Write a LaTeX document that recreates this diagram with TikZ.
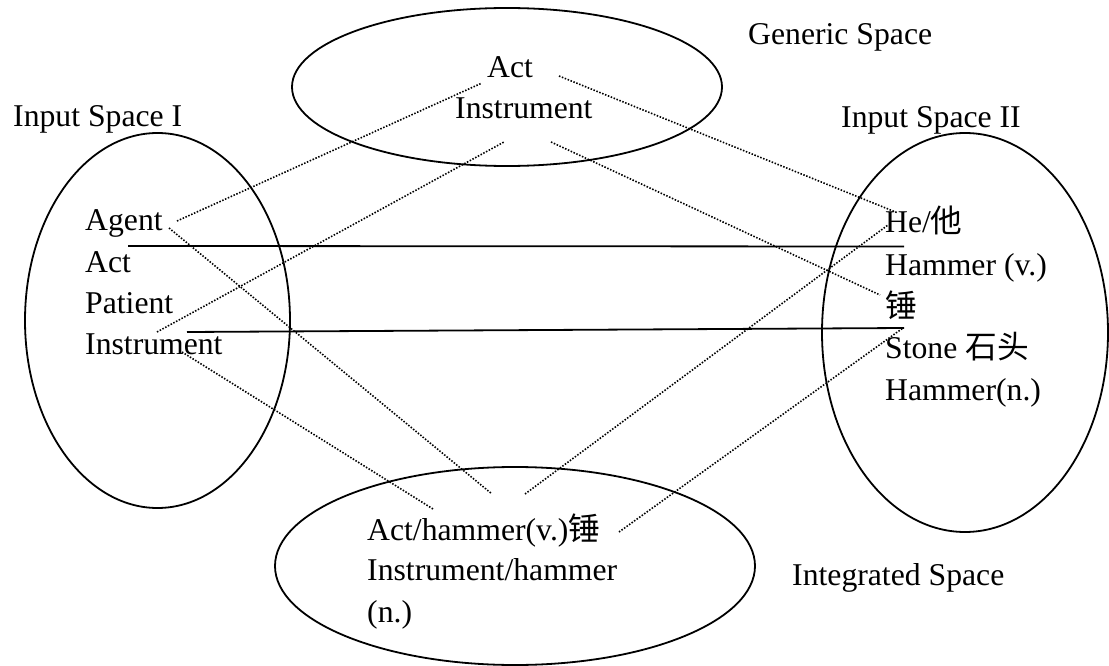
\documentclass[tikz,border=0pt]{standalone}
\usepackage{fontspec}
\setmainfont{Liberation Serif}
\newfontfamily\cjk{Noto Sans CJK SC}
\newcommand{\zh}[1]{{\cjk #1}}
\usetikzlibrary{shapes.geometric}
\begin{document}
\begin{tikzpicture}[x=1pt,y=-1pt,
  space/.style={draw, ellipse, line width=1.8pt, inner sep=0pt},
  txt/.style={anchor=base west, inner sep=0pt, font=\fontsize{31.7}{38}\selectfont},
  link/.style={line width=1.6pt, dash pattern=on 1.5pt off 1.6pt},
  match/.style={line width=1.8pt}]
\useasboundingbox (0,0) rectangle (1109,666);

% the four mental spaces
\node[space, minimum width=430pt, minimum height=158pt] (generic) at (507,87) {};
\node[space, minimum width=265pt, minimum height=375pt] (inputA) at (157.5,320.5) {};
\node[space, minimum width=286pt, minimum height=399pt] (inputB) at (965,332.5) {};
\node[space, minimum width=480pt, minimum height=198pt] (blend) at (515,566) {};

% space titles
\node[txt] (tGeneric) at (748,45) {Generic Space};
\node[txt] (tInputA) at (13,127) {Input Space I};
\node[txt] (tInputB) at (841,128) {Input Space II};
\node[txt] (tBlend) at (792,585) {Integrated Space};

% generic space contents
\node[txt] (gAct) at (487,78) {Act};
\node[txt] (gInst) at (455,119) {Instrument};

% input space I contents
\node[txt] (aAgent) at (85,230) {Agent};
\node[txt] (aAct) at (85,272) {Act};
\node[txt] (aPatient) at (85,313) {Patient};
\node[txt] (aInst) at (85,354) {Instrument};

% input space II contents
\node[txt] (bHe) at (885,233) {He/\zh{他}};
\node[txt] (bHammerV) at (885,275) {Hammer (v.)};
\node[txt] (bChui) at (885,317) {\zh{锤}};
\node[txt] (bStone) at (885,358) {Stone \zh{石头}};
\node[txt] (bHammerN) at (885,400) {Hammer(n.)};

% integrated space contents
\node[txt] (cAct) at (367,540) {Act/hammer(v.)\zh{锤}};
\node[txt] (cInst) at (367,580) {Instrument/hammer};
\node[txt] (cN) at (367,622) {(n.)};

% connector end points
\coordinate (pAgentUp) at (177,221);
\coordinate (pAgentDown) at (169,228);
\coordinate (pPatient) at (157,332);
\coordinate (pInstDown) at (182,352);
\coordinate (pGenActL) at (482,83);
\coordinate (pGenActR) at (559,76);
\coordinate (pGenInstL) at (504,142);
\coordinate (pGenInstR) at (551,142);
\coordinate (pHeUp) at (898,213);
\coordinate (pHeDown) at (888,225);
\coordinate (pChui) at (880,295);
\coordinate (pStone) at (903,328);
\coordinate (pBlendA) at (492,494);
\coordinate (pBlendB) at (433,509);
\coordinate (pBlendC) at (525,494);
\coordinate (pBlendD) at (619,532);
\coordinate (sAgentL) at (128,246);
\coordinate (sAgentR) at (904,246.5);
\coordinate (sInstL) at (187,332);
\coordinate (sInstR) at (904,328);

% cross-space counterpart links
\draw[match] (sAgentL) -- (sAgentR);
\draw[match] (sInstL) -- (sInstR);

% projections to and from the generic and integrated spaces
\draw[link] (pAgentUp) -- (pGenActL);
\draw[link] (pAgentDown) -- (pBlendA);
\draw[link] (pPatient) -- (pGenInstL);
\draw[link] (pInstDown) -- (pBlendB);
\draw[link] (pGenActR) -- (pHeUp);
\draw[link] (pGenInstR) -- (pChui);
\draw[link] (pBlendC) -- (pHeDown);
\draw[link] (pBlendD) -- (pStone);
\end{tikzpicture}
\end{document}
